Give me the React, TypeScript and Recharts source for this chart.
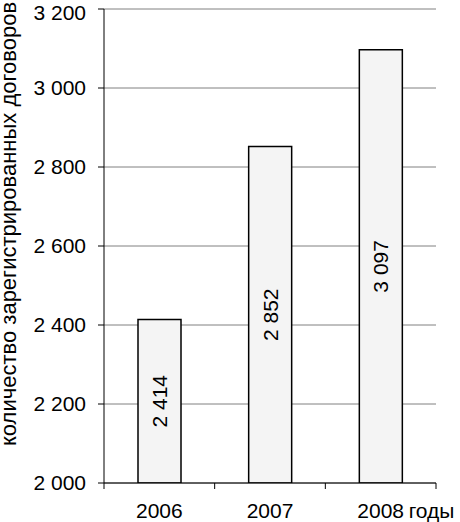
import { BarChart, Bar, XAxis, YAxis, CartesianGrid, LabelList, Label } from "recharts";

const years = ["2006", "2007", "2008"];
const contracts = [2414, 2852, 3097];
const yTicks = [2000, 2200, 2400, 2600, 2800, 3000, 3200];
const yTitle = "количество зарегистрированных договоров";
const xUnit = "годы";

const data = years.map((year, i) => ({ year, value: contracts[i] }));

const W = 460;
const H = 522;
const MARGIN = { top: 9, right: 24, left: 0, bottom: 0 };
const Y_AXIS_W = 104;
const X_AXIS_H = 39;
const FONT = "'Liberation Sans', Arial, sans-serif";
const FS = 21;
const TITLE_FS = 22;

const band = (W - MARGIN.right - MARGIN.left - Y_AXIS_W) / years.length;

const fmt = (v: number) => String(v).replace(/\B(?=(\d{3})+(?!\d))/g, " ");

function YearTick(props: any) {
  const { x, y, payload, index } = props;
  // y here = axis line + tickSize(6) + tickMargin(16)
  const axisY = y - 22;
  const isLast = index === years.length - 1;
  return (
    <g>
      <line x1={x - band / 2} x2={x - band / 2} y1={axisY} y2={axisY + 6} stroke="#000" />
      {isLast && <line x1={x + band / 2} x2={x + band / 2} y1={axisY} y2={axisY + 6} stroke="#000" />}
      <text x={x} y={y - 2} dy="0.71em" textAnchor="middle" fontSize={FS} fontFamily={FONT} fill="#000">
        {payload.value}
      </text>
      {isLast && (
        <text x={x + 28} y={y - 2} dy="0.71em" textAnchor="start" fontSize={FS} fontFamily={FONT} fill="#000">
          {xUnit}
        </text>
      )}
    </g>
  );
}

function BarValue(props: any) {
  const { x, y, width, height, value } = props;
  const cx = x + width / 2;
  const cy = y + height / 2;
  return (
    <text
      x={cx}
      y={cy}
      transform={`rotate(-90 ${cx} ${cy})`}
      textAnchor="middle"
      dominantBaseline="central"
      fontSize={FS}
      fontFamily={FONT}
      fill="#000"
    >
      {fmt(value)}
    </text>
  );
}

export default function App() {
  return (
    <div style={{ position: "absolute", left: 0, top: 0, width: W, height: H, background: "#fff" }}>
      <BarChart width={W} height={H} data={data} margin={MARGIN} barSize={43}>
        <CartesianGrid vertical={false} stroke="#808080" strokeWidth={1} />
        <XAxis
          dataKey="year"
          height={X_AXIS_H}
          axisLine={{ stroke: "#000" }}
          tickLine={false}
          tickSize={6}
          tickMargin={16}
          tick={<YearTick />}
          interval={0}
        />
        <YAxis
          width={Y_AXIS_W}
          domain={[2000, 3200]}
          ticks={yTicks}
          allowDataOverflow
          tickFormatter={fmt}
          axisLine={{ stroke: "#000" }}
          tickLine={{ stroke: "#000" }}
          tickSize={6}
          tickMargin={12}
          tick={{ fontSize: FS, fontFamily: FONT, fill: "#000" }}
        >
          <Label
            content={() => (
              <text
                x={16}
                y={446}
                transform="rotate(-90 16 446)"
                textAnchor="start"
                fontSize={TITLE_FS}
                fontFamily={FONT}
                fill="#000"
              >
                {yTitle}
              </text>
            )}
          />
        </YAxis>
        <Bar dataKey="value" fill="#f4f4f4" stroke="#000" strokeWidth={1.5} isAnimationActive={false}>
          <LabelList dataKey="value" content={<BarValue />} />
        </Bar>
      </BarChart>
    </div>
  );
}
